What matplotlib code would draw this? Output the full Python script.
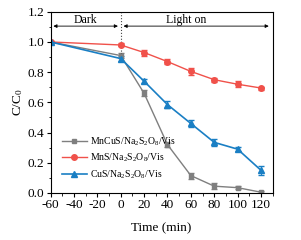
import matplotlib
matplotlib.use('Agg')
import matplotlib.pyplot as plt

plt.rcParams['font.family'] = ['Liberation Serif', 'DejaVu Serif']
plt.rcParams['mathtext.fontset'] = 'custom'
plt.rcParams['mathtext.rm'] = 'Liberation Serif'
plt.rcParams['mathtext.it'] = 'Liberation Serif:italic'
plt.rcParams['axes.unicode_minus'] = False

time = [-60, 0, 20, 40, 60, 80, 100, 120]
mncus = [1.0, 0.91, 0.66, 0.32, 0.115, 0.045, 0.035, 0.005]
mncus_err = [0.0, 0.015, 0.02, 0.015, 0.02, 0.02, 0.012, 0.005]
mns = [1.0, 0.98, 0.93, 0.87, 0.805, 0.75, 0.72, 0.695]
mns_err = [0.0, 0.01, 0.02, 0.018, 0.025, 0.012, 0.02, 0.01]
cus = [1.0, 0.89, 0.74, 0.585, 0.46, 0.335, 0.29, 0.15]
cus_err = [0.0, 0.015, 0.015, 0.025, 0.02, 0.025, 0.015, 0.03]
labels = [r'MnCuS/Na$_\mathrm{2}$S$_\mathrm{2}$O$_\mathrm{8}$/Vis',
          r'MnS/Na$_\mathrm{2}$S$_\mathrm{2}$O$_\mathrm{8}$/Vis',
          r'CuS/Na$_\mathrm{2}$S$_\mathrm{2}$O$_\mathrm{8}$/Vis']

fig = plt.figure(figsize=(3.01, 2.40), dpi=100)
ax = fig.add_axes([0.168, 0.196, 0.738, 0.755])

e1 = ax.errorbar(time, mncus, yerr=mncus_err, color='#7f7f7f', marker='s', ms=3.5,
                 lw=1, capsize=2, elinewidth=0.8)
e2 = ax.errorbar(time, mns, yerr=mns_err, color='#f0514a', marker='o', ms=4,
                 lw=1, capsize=2, elinewidth=0.8)
e3 = ax.errorbar(time, cus, yerr=cus_err, color='#1a7fc4', marker='^', ms=4.5,
                 lw=1.2, capsize=2, elinewidth=0.8)

# dark / light annotations
ax.plot([0, 0], [0.9, 1.2], ls=':', color='#444444', lw=0.8)
ax.annotate('', xy=(-60, 1.105), xytext=(0, 1.105),
            arrowprops=dict(arrowstyle='<|-|>', color='black', lw=0.6, mutation_scale=5))
ax.annotate('', xy=(0, 1.105), xytext=(129, 1.105),
            arrowprops=dict(arrowstyle='<|-|>', color='black', lw=0.6, mutation_scale=5))
ax.text(-30, 1.145, 'Dark', ha='center', va='center', fontsize=8.5)
ax.text(56, 1.145, 'Light on', ha='center', va='center', fontsize=8.5)

ax.set_xlim(-60, 130)
ax.set_ylim(0, 1.2)
ax.set_xticks(range(-60, 121, 20))
ax.set_xticks(range(-50, 131, 20), minor=True)
ax.set_yticks([0.0, 0.2, 0.4, 0.6, 0.8, 1.0, 1.2])
ax.set_yticks([0.1, 0.3, 0.5, 0.7, 0.9, 1.1], minor=True)
ax.set_yticklabels(['0.0', '0.2', '0.4', '0.6', '0.8', '1.0', '1.2'])
ax.tick_params(axis='both', which='major', labelsize=9.5, length=3, width=0.8, pad=1.5)
ax.tick_params(axis='both', which='minor', length=1.8, width=0.6)
for s in ax.spines.values():
    s.set_linewidth(0.8)

ax.set_xlabel('Time (min)', fontsize=9.5, labelpad=8)
ax.set_ylabel(r'C/C$_\mathrm{0}$', fontsize=9.5, labelpad=2)

ax.legend([e1[0], e2[0], e3[0]], labels, loc='lower left', bbox_to_anchor=(0.02, 0.03),
          frameon=False, fontsize=7, handlelength=2.6, handletextpad=0.3,
          labelspacing=0.4, borderpad=0.2)

fig.savefig('out.png', dpi=100)
